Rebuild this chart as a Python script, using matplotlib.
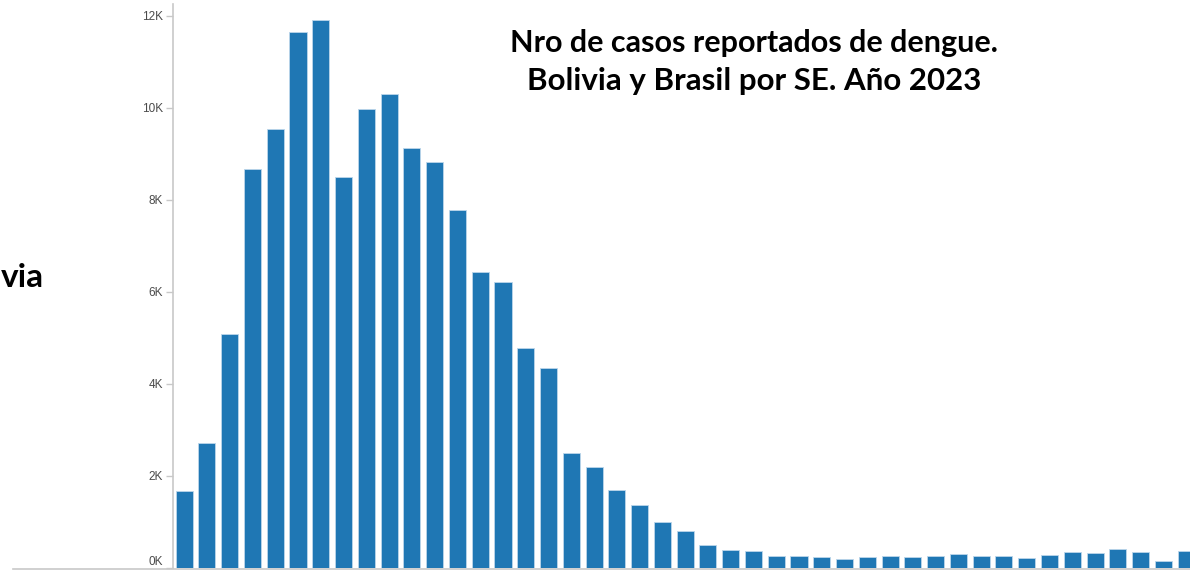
import numpy as np
import matplotlib
matplotlib.use('Agg')
import matplotlib.pyplot as plt
from matplotlib.lines import Line2D
from matplotlib.ticker import FuncFormatter

# ── Data: reported dengue cases per epidemiological week (SE), 2023 ─────────
semanas = list(range(1, 46))
casos = [1680, 2710, 5090, 8670, 9550, 11660, 11910, 8490, 9970, 10300,
         9120, 8820, 7790, 6440, 6220, 4790, 4340, 2510, 2200, 1700,
         1370, 990, 800, 490, 390, 360, 260, 260, 235, 205,
         235, 265, 235, 260, 295, 265, 265, 210, 290, 340,
         320, 420, 340, 160, 360]
yticks = [0, 2000, 4000, 6000, 8000, 10000, 12000]

TITLE_1 = 'Nro de casos reportados de dengue.'
TITLE_2 = 'Bolivia y Brasil por SE. Año 2023'
BAR_COLOR = '#1f77b4'
AXIS_GRAY = '#c8c8c8'

W, H = 1190, 570
fig = plt.figure(figsize=(W / 100, H / 100), dpi=100)

# axes placed in pixel terms: left spine at x=173, baseline at y=568
ax = fig.add_axes([173 / W, (H - 568) / H, 1 - 173 / W, (568 - 4) / H])

x = np.arange(len(semanas))
ax.bar(x, casos, width=0.75, color=BAR_COLOR, edgecolor='#bcd6ea', linewidth=0.6)

ax.set_xlim(-0.49, 44.17)
ax.set_ylim(0, 12260)
ax.set_yticks(yticks)
ax.yaxis.set_major_formatter(FuncFormatter(lambda v, _: f'{int(v / 1000)}K'))
ax.set_xticks([])

for side in ['top', 'right', 'bottom']:
    ax.spines[side].set_visible(False)
ax.spines['left'].set_color(AXIS_GRAY)
ax.spines['left'].set_linewidth(1.2)
ax.tick_params(axis='y', length=5, width=1, color=AXIS_GRAY, pad=2,
               labelsize=8.5, labelcolor='#4a4a4a')
for lab in ax.get_yticklabels():
    lab.set_fontfamily('Liberation Sans')
# the 0K label sits just above the baseline (it would be cut at the bottom)
ax.get_yticklabels()[0].set_verticalalignment('bottom')

# baseline extends to the left of the plot, as in the screenshot
fig.add_artist(Line2D([13 / W, 1], [(H - 568.5) / H] * 2, color=AXIS_GRAY, lw=1.2))

fig.text(754 / W, 1 - 52 / H, TITLE_1, ha='center', va='baseline', fontsize=22,
         fontweight='bold', family='Lato', color='black')
fig.text(754 / W, 1 - 90 / H, TITLE_2, ha='center', va='baseline', fontsize=22.5,
         fontweight='bold', family='Lato', color='black')
fig.text(1 / W, 1 - 287 / H, 'via', ha='left', va='baseline', fontsize=24,
         fontweight='bold', family='Lato', color='black')

fig.savefig('out.png', dpi=100)
